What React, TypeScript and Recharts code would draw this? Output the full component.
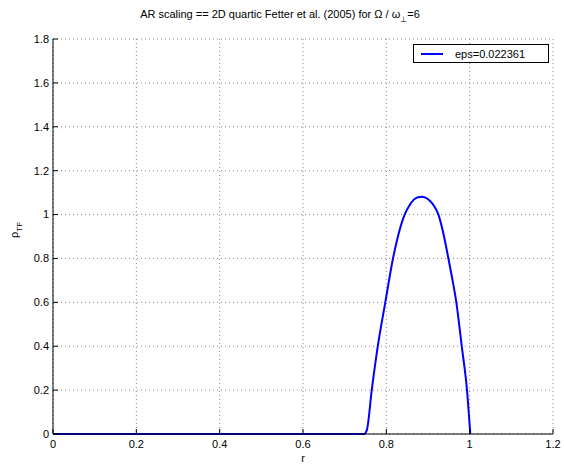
import React from 'react';
import { ComposedChart, Line, XAxis, YAxis, CartesianGrid, Legend } from 'recharts';

// radius samples and Thomas-Fermi density
const rValues = [
  0, 0.74, 0.747, 0.7535, 0.765, 0.7795, 0.7975, 0.816, 0.844, 0.855, 0.866, 0.876,
  0.8856, 0.895, 0.905, 0.915, 0.925, 0.935, 0.949, 0.958, 0.968, 0.981, 0.9936, 1.0015,
];
const rhoValues = [
  0, 0, 0, 0.02, 0.2, 0.4, 0.6, 0.8, 1.0, 1.04, 1.068, 1.079,
  1.081, 1.076, 1.062, 1.038, 1.0, 0.93, 0.8, 0.71, 0.6, 0.4, 0.2, 0,
];
const xTicks = [0, 0.2, 0.4, 0.6, 0.8, 1, 1.2];
const yTicks = [0, 0.2, 0.4, 0.6, 0.8, 1, 1.2, 1.4, 1.6, 1.8];
const seriesName = 'eps=0.022361';

const data = rValues.map((r, i) => ({ r, rho: rhoValues[i] }));

const font = '"Liberation Sans", Arial, Helvetica, sans-serif';
const TICK_LEN = 5;

function LeftTick(props: any) {
  const { x, y, payload } = props;
  const ax = x + 4;
  return (
    <g>
      <line x1={ax} x2={ax + TICK_LEN} y1={y} y2={y} stroke="#000" />
      <text x={x} y={y} dy="0.35em" textAnchor="end" fontSize={11} fontFamily={font} fill="#000">
        {String(payload.value)}
      </text>
    </g>
  );
}

function BottomTick(props: any) {
  const { x, y, payload } = props;
  const ay = y - 6;
  return (
    <g>
      <line x1={x} x2={x} y1={ay} y2={ay - TICK_LEN} stroke="#000" />
      <text x={x} y={y} dy="0.75em" textAnchor="middle" fontSize={11} fontFamily={font} fill="#000">
        {String(payload.value)}
      </text>
    </g>
  );
}

function RightTick(props: any) {
  const { x, y } = props;
  return <line x1={x} x2={x - TICK_LEN} y1={y} y2={y} stroke="#000" />;
}

function TopTick(props: any) {
  const { x, y } = props;
  return <line x1={x} x2={x} y1={y} y2={y + TICK_LEN} stroke="#000" />;
}

function LegendBox() {
  return (
    <div
      style={{
        border: '1px solid #000',
        background: '#fff',
        width: 134,
        height: 17,
        display: 'flex',
        alignItems: 'center',
        fontFamily: font,
        fontSize: 11,
        color: '#000',
      }}
    >
      <div style={{ width: 22, height: 2, background: '#0000ff', marginLeft: 7 }} />
      <span style={{ marginLeft: 12 }}>{seriesName}</span>
    </div>
  );
}

export default function App() {
  return (
    <div style={{ position: 'absolute', left: 0, top: 0, width: 564, height: 467, background: '#fff' }}>
      <ComposedChart
        width={564}
        height={467}
        data={data}
        margin={{ top: 39, right: 11, bottom: 0, left: 0 }}
      >
        <CartesianGrid stroke="#888" strokeDasharray="1 3" />
        <XAxis
          dataKey="r"
          type="number"
          domain={[0, 1.2]}
          ticks={xTicks}
          height={33}
          tickSize={0}
          tickMargin={6}
          tick={BottomTick}
          axisLine={{ stroke: '#000' }}
          tickLine={false}
          interval={0}
        />
        <XAxis
          xAxisId="top"
          dataKey="r"
          type="number"
          orientation="top"
          domain={[0, 1.2]}
          ticks={xTicks}
          height={0}
          tickSize={0}
          tickMargin={0}
          tick={TopTick}
          axisLine={{ stroke: '#000' }}
          tickLine={false}
          interval={0}
        />
        <YAxis
          type="number"
          domain={[0, 1.8]}
          ticks={yTicks}
          width={53}
          tickSize={0}
          tickMargin={4}
          tick={LeftTick}
          axisLine={{ stroke: '#000' }}
          tickLine={false}
          interval={0}
        />
        <YAxis
          yAxisId="right"
          orientation="right"
          type="number"
          domain={[0, 1.8]}
          ticks={yTicks}
          width={0}
          tickSize={0}
          tickMargin={0}
          tick={RightTick}
          axisLine={{ stroke: '#000' }}
          tickLine={false}
          interval={0}
        />
        <Legend
          layout="vertical"
          align="center"
          verticalAlign="middle"
          content={LegendBox}
          wrapperStyle={{ left: 413, top: 44, width: 136 }}
        />
        <Line
          type="monotone"
          dataKey="rho"
          name={seriesName}
          stroke="#0000ff"
          strokeWidth={2}
          dot={false}
          activeDot={false}
          isAnimationActive={false}
        />
      </ComposedChart>
      <div
        style={{
          position: 'absolute',
          left: 0,
          width: 560,
          top: 8,
          textAlign: 'center',
          fontFamily: font,
          fontSize: 11,
          lineHeight: '13px',
          color: '#000',
          whiteSpace: 'nowrap',
        }}
      >
        AR scaling == 2D quartic Fetter et al. (2005) for Ω / ω
        <span style={{ position: 'relative', top: 4, fontSize: 8 }}>⊥</span>=6
      </div>
      <div
        style={{
          position: 'absolute',
          left: 297,
          width: 12,
          top: 452,
          textAlign: 'center',
          fontFamily: font,
          fontSize: 11,
          lineHeight: '13px',
          color: '#000',
        }}
      >
        r
      </div>
      <div
        style={{
          position: 'absolute',
          left: 15,
          top: 230,
          transform: 'translate(-50%, -50%) rotate(-90deg)',
          fontFamily: font,
          fontSize: 11,
          lineHeight: '13px',
          color: '#000',
          whiteSpace: 'nowrap',
        }}
      >
        ρ<span style={{ position: 'relative', top: 4, fontSize: 8 }}>TF</span>
      </div>
    </div>
  );
}
